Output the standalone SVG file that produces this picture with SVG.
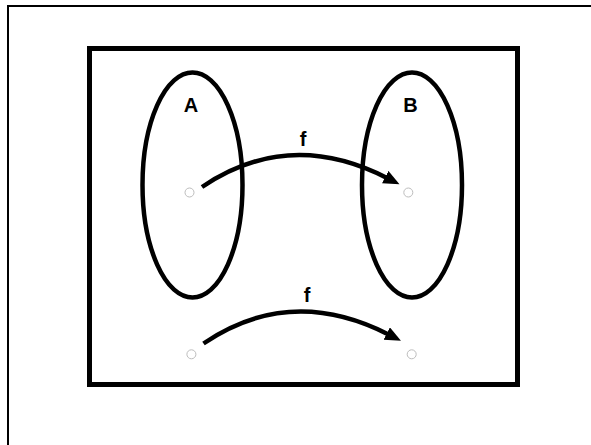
<svg xmlns="http://www.w3.org/2000/svg" width="591" height="445" viewBox="0 0 591 445">
  <style>
    .set { fill: none; stroke: #000; stroke-width: 4.5; }
    .pt { fill: #fff; stroke: #bdbdbd; stroke-width: 1; }
    .arrow { fill: none; stroke: #000; stroke-width: 4.5; marker-end: url(#head); }
    .lbl { font-family: "Liberation Sans", Arial, sans-serif; font-weight: bold; font-size: 20px; fill: #000; text-anchor: middle; }
  </style>
  <defs>
    <marker id="head" markerUnits="userSpaceOnUse" markerWidth="18" markerHeight="15" viewBox="0 0 18 15" refX="2" refY="7" orient="auto">
      <path d="M0,0 L16,7 L0,14 Z" fill="#000"/>
    </marker>
  </defs>
  <rect x="0" y="0" width="591" height="445" fill="#fff"/>
  <g id="frame">
    <rect x="8" y="6" width="600" height="460" fill="none" stroke="#000" stroke-width="2"/>
  </g>
  <g id="box">
    <rect x="89.5" y="48.5" width="428" height="336" fill="none" stroke="#000" stroke-width="5"/>
  </g>
  <g id="setA">
    <ellipse class="set" cx="192.5" cy="185" rx="50" ry="112.5"/>
    <text class="lbl" x="191" y="112">A</text>
    <circle class="pt" cx="189.5" cy="192.5" r="4.5"/>
  </g>
  <g id="setB">
    <ellipse class="set" cx="412" cy="185" rx="50" ry="112.5"/>
    <text class="lbl" x="410.5" y="112">B</text>
    <circle class="pt" cx="408.3" cy="192.5" r="4.5"/>
  </g>
  <g id="pointA2">
    <circle class="pt" cx="191.4" cy="354.3" r="4.5"/>
  </g>
  <g id="pointB2">
    <circle class="pt" cx="411.7" cy="354.3" r="4.5"/>
  </g>
  <g id="connectors">
    <path class="arrow" d="M202,187 Q289,128 387,178"/>
    <text class="lbl" x="303" y="146">f</text>
    <path class="arrow" d="M203.5,343.5 Q290.5,284.5 388.5,334.5"/>
    <text class="lbl" x="307" y="301.5">f</text>
  </g>
</svg>
